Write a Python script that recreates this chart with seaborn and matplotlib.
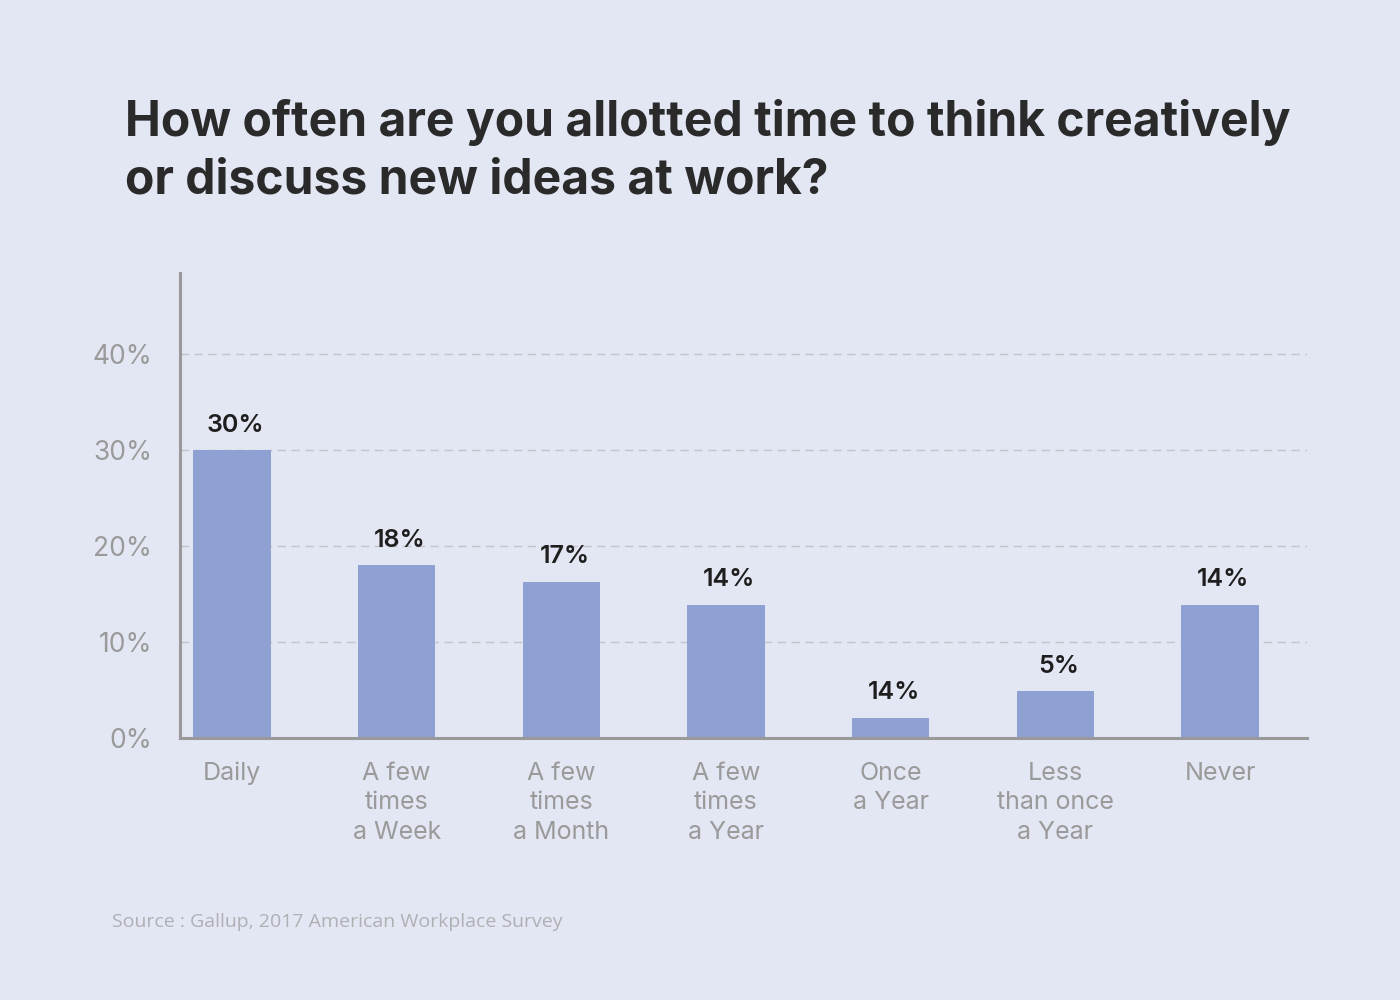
import matplotlib
matplotlib.use("Agg")
import matplotlib.pyplot as plt
import seaborn as sns
import pandas as pd

categories = ["Daily", "A few\ntimes\na Week", "A few\ntimes\na Month", "A few\ntimes\na Year",
              "Once\na Year", "Less\nthan once\na Year", "Never"]
values = [30, 18, 16.3, 13.9, 2.1, 4.9, 13.9]
value_labels = ["30%", "18%", "17%", "14%", "14%", "5%", "14%"]
y_ticks = [0, 10, 20, 30, 40]
y_tick_labels = ["0%", "10%", "20%", "30%", "40%"]

sns.set_theme(style="white")
plt.rcParams['font.family'] = ['Inter', 'DejaVu Sans']

bg = "#e3e6f3"
bar_color = "#8fa0d3"
grey = "#9a9a9a"

fig = plt.figure(figsize=(14, 10), dpi=100, facecolor=bg)
ax = fig.add_axes([0.1286, 0.262, 0.805, 0.465])
ax.set_facecolor(bg)

df = pd.DataFrame({"cat": categories, "val": values})
sns.barplot(data=df, x="cat", y="val", color=bar_color, width=0.47, saturation=1,
            ax=ax, zorder=3, edgecolor="none")

ax.set_xlim(-0.316, 6.528)
ax.set_ylim(0, 48.5)
ax.set_yticks(y_ticks)
ax.set_yticklabels(y_tick_labels, fontsize=19, color=grey)
ax.tick_params(axis="y", length=0, pad=20)
ax.tick_params(axis="x", length=0, pad=17)
for lbl in ax.get_xticklabels():
    lbl.set_fontsize(18)
    lbl.set_color(grey)
    lbl.set_linespacing(1.36)
    lbl.set_verticalalignment("top")
ax.set_xlabel("")
ax.set_ylabel("")

for y in y_ticks[1:]:
    ax.axhline(y, color="#c4c4c8", linestyle=(0, (6, 4)), linewidth=1.0, zorder=1)

for s in ["top", "right"]:
    ax.spines[s].set_visible(False)
for s in ["left", "bottom"]:
    ax.spines[s].set_color("#999999")
    ax.spines[s].set_linewidth(2.2)
    ax.spines[s].set_zorder(4)

for i, (v, t) in enumerate(zip(values, value_labels)):
    ax.text(i + 0.02, v + 1.4, t, ha="center", va="bottom", fontsize=18,
            color="#1e1e1e", fontweight="semibold", zorder=5)

fig.text(0.089, 0.878, "How often are you allotted time to think creatively",
         fontsize=34.6, fontweight="bold", color="#2a2a2a", ha="left", va="center")
fig.text(0.089, 0.820, "or discuss new ideas at work?",
         fontsize=34.6, fontweight="bold", color="#2a2a2a", ha="left", va="center")
fig.text(0.080, 0.078, "Source : Gallup, 2017 American Workplace Survey",
         fontsize=14, color="#b0b0b4", ha="left", va="center", family=["Open Sans", "DejaVu Sans"])

fig.savefig("out.png", dpi=100, facecolor=bg)
